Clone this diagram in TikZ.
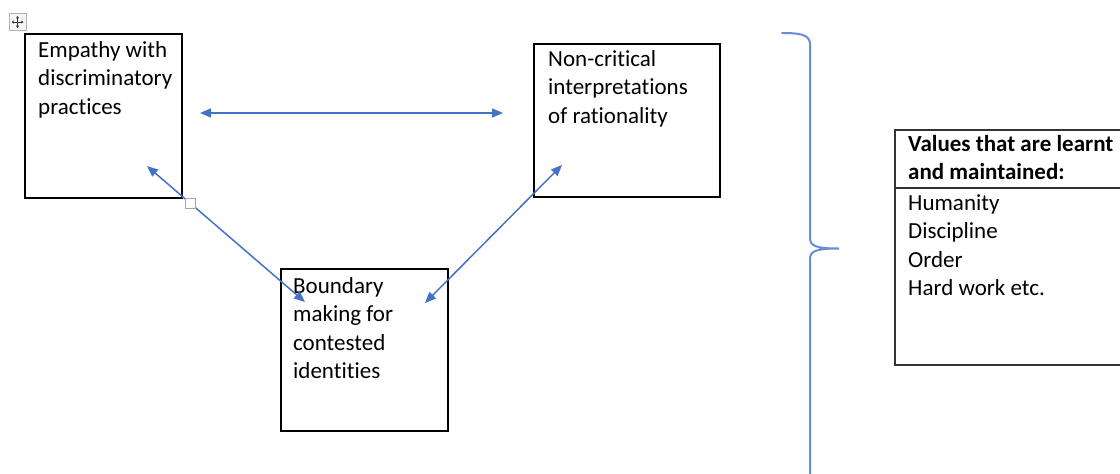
\documentclass[tikz,border=0pt]{standalone}
\usepackage{fontspec}
\setmainfont{Carlito}[Ligatures={NoCommon}]
\usetikzlibrary{arrows.meta}
\definecolor{linkblue}{HTML}{4472C4}
\definecolor{braceblue}{HTML}{6A8CD8}
\definecolor{rulegray}{HTML}{333333}
% invisible strut fixing the height of a node's first line
\newcommand\lnstrut{\rule{0pt}{20pt}}

\begin{document}
\begin{tikzpicture}[x=1pt,y=-1pt,
  box/.style={draw=black,line width=1.3pt,anchor=north west,inner sep=0,outer sep=0},
  tbl/.style={draw=rulegray,line width=2pt,anchor=north west,inner sep=0,outer sep=0},
  txt/.style={font=\fontsize{23}{28.4}\selectfont,align=left,inner sep=0,anchor=north west},
  link/.style={draw=linkblue,line width=1.5pt,
    {Triangle[length=11pt,width=9pt]}-{Triangle[length=11pt,width=9pt]}},
  handle/.style={draw=gray!70,fill=white,line width=0.8pt,inner sep=0,minimum size=10pt},
]
\useasboundingbox (0,0) rectangle (1120,474);
\clip (0,0) rectangle (1120,474);

% the three concept boxes
\node[box,minimum width=157pt,minimum height=164pt] (emp) at (25,34) {};
\node[box,minimum width=186pt,minimum height=153pt] (rat) at (534,44) {};
\node[box,minimum width=167pt,minimum height=162pt] (bnd) at (281,269) {};

\node[txt] (empt) at (38,37) {\lnstrut Empathy with\\discriminatory\\practices};
\node[txt] (ratt) at (548,46) {\lnstrut Non-critical\\interpretations\\of rationality};
\node[txt] (bndt) at (293,273) {\lnstrut Boundary\\making for\\contested\\identities};

% two-headed connectors between the boxes
\coordinate (h1) at (200,113);
\coordinate (h2) at (503,113);
\coordinate (d1) at (147,166);
\coordinate (d2) at (305,302);
\coordinate (e1) at (562,165);
\coordinate (e2) at (425,303);
\draw[link] (h1) -- (h2);
\draw[link] (d1) -- (d2);
\draw[link] (e1) -- (e2);

% selection handle on the diagonal connector
\node[handle] (sel) at (190,203) {};

% table move handle
\node[draw=gray!60,fill=gray!8,line width=0.8pt,inner sep=0,minimum size=17pt] (mv) at (17.5,22) {};
\draw[gray!40!black,line width=0.7pt,{Stealth[length=2.5pt,width=3pt]}-{Stealth[length=2.5pt,width=3pt]}]
  ([xshift=-6pt]mv.center) -- ([xshift=6pt]mv.center);
\draw[gray!40!black,line width=0.7pt,{Stealth[length=2.5pt,width=3pt]}-{Stealth[length=2.5pt,width=3pt]}]
  ([yshift=-6pt]mv.center) -- ([yshift=6pt]mv.center);

% right curly brace
\coordinate (bt) at (782,33);
\coordinate (bm) at (839,248.5);
\coordinate (bb) at (810,480);
\draw[braceblue,line width=2pt,line cap=round]
  (bt) .. controls (798,33) and (810,34) .. (810,44)
  -- (810,238) .. controls (810,246) and (816,248.5) .. (bm)
  .. controls (816,248.5) and (810,251) .. (810,259) -- (bb);

% table of values
\node[tbl,minimum width=240pt,minimum height=235pt] (vals) at (895,130) {};
\coordinate (hl) at (895,188);
\coordinate (hr) at (1135,188);
\draw[rulegray,line width=2pt] (hl) -- (hr);
\node[txt,font=\fontsize{23}{28.4}\selectfont\bfseries] (valh) at (908,131)
  {\lnstrut Values that are learnt\\and maintained:};
\node[txt] (vali) at (908,190)
  {\lnstrut Humanity\\Discipline\\Order\\Hard work etc.};
\end{tikzpicture}
\end{document}
